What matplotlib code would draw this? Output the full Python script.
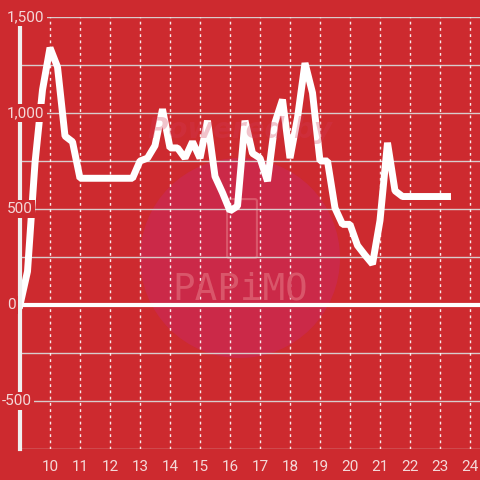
import matplotlib
matplotlib.use("Agg")
import matplotlib.pyplot as plt
import matplotlib.transforms as mtransforms
from matplotlib.patches import Circle, FancyBboxPatch

# hours (15 minute steps) and values
hours = [9.0, 9.25, 9.5, 9.75, 10.0, 10.25, 10.5, 10.75, 11.0, 11.25, 11.5, 11.75,
         12.0, 12.25, 12.5, 12.75, 13.0, 13.25, 13.5, 13.75, 14.0, 14.25, 14.5,
         14.75, 15.0, 15.25, 15.5, 15.75, 16.0, 16.25, 16.5, 16.75, 17.0, 17.25,
         17.5, 17.75, 18.0, 18.25, 18.5, 18.75, 19.0, 19.25, 19.5, 19.75, 20.0,
         20.25, 20.5, 20.75, 21.0, 21.25, 21.5, 21.75, 22.0, 22.25, 22.5, 22.75,
         23.0, 23.25]
values = [0, 175, 740, 1120, 1340, 1240, 880, 850, 660, 660, 660, 660,
          660, 660, 660, 660, 750, 765, 830, 1020, 818, 818, 765,
          850, 765, 960, 670, 585, 490, 515, 960, 790, 765, 645,
          950, 1070, 765, 975, 1260, 1105, 750, 750, 505, 420, 420,
          310, 260, 213, 440, 845, 595, 565, 565, 565, 565, 565,
          565, 565]
xticks = list(range(10, 25))
yticks = [1500, 1000, 500, 0, -500]
ylabels = ["1,500", "1,000", "500", "0", "-500"]

bg = "#cd2a2f"
txt = "#f4d8d8"
grid = "#d8cccc"

fig = plt.figure(figsize=(4.8, 4.8), dpi=100, facecolor=bg)
ax = fig.add_axes([20 / 480, 31 / 480, 460 / 480, 432 / 480])
ax.set_facecolor(bg)
ax.set_xlim(9.0, 9.0 + 460 / 30)
ax.set_ylim(-750, 1500)

# watermark
ax.add_patch(Circle((240 / 480, 222 / 480), 100 / 480, transform=fig.transFigure,
                    color="#cb2948", zorder=0.5, lw=0))
ax.add_patch(FancyBboxPatch((229 / 480, 224 / 480), 26 / 480, 55 / 480,
                            boxstyle="round,pad=0.004", transform=fig.transFigure,
                            fill=False, ec="#d9566a", lw=1.5, zorder=0.6))
fig.text(240 / 480, 190 / 480, "PAPiMO", color="#d9566a", fontsize=27,
         family="DejaVu Sans Mono", ha="center", va="center", zorder=0.6)
fig.text(240 / 480, 350 / 480, "Powered by", color="#d23a55", fontsize=20,
         fontweight="bold", style="italic", ha="center", va="center", alpha=0.3)

# grid
for v in range(-750, 1501, 250):
    if v == 0:
        continue
    ax.axhline(v, color=grid, lw=1, zorder=1)
for h in xticks:
    ax.axvline(h, color="white", lw=1, ls=(0, (2, 2.5)), zorder=1, alpha=0.9)
ax.axhline(0, color="white", lw=3, zorder=2)

ax.plot(hours, values, color="white", lw=5, solid_joinstyle="bevel", zorder=3,
        clip_on=False)

for s in ax.spines.values():
    s.set_visible(False)
ax.plot([9.0, 9.0], [-750, 1460], color="#f0f0f0", lw=3, zorder=4, clip_on=False)

ax.set_xticks(xticks)
ax.set_xticklabels([str(h) for h in xticks], color=txt, fontsize=11, family="Roboto")
ax.tick_params(axis="x", length=0, pad=8)
ax.set_yticks([])

trans = mtransforms.blended_transform_factory(fig.transFigure, ax.transData)
for v, lab in zip(yticks, ylabels):
    x0 = 2 / 480 if lab.startswith("-") else 7 / 480
    ax.text(x0, v, lab, transform=trans, ha="left", va="center", color=txt,
            fontsize=11, family="Roboto", zorder=5, clip_on=False,
            bbox=dict(boxstyle="square,pad=0.15", fc=bg, ec="none"))

fig.savefig("out.png", dpi=100, facecolor=bg)
